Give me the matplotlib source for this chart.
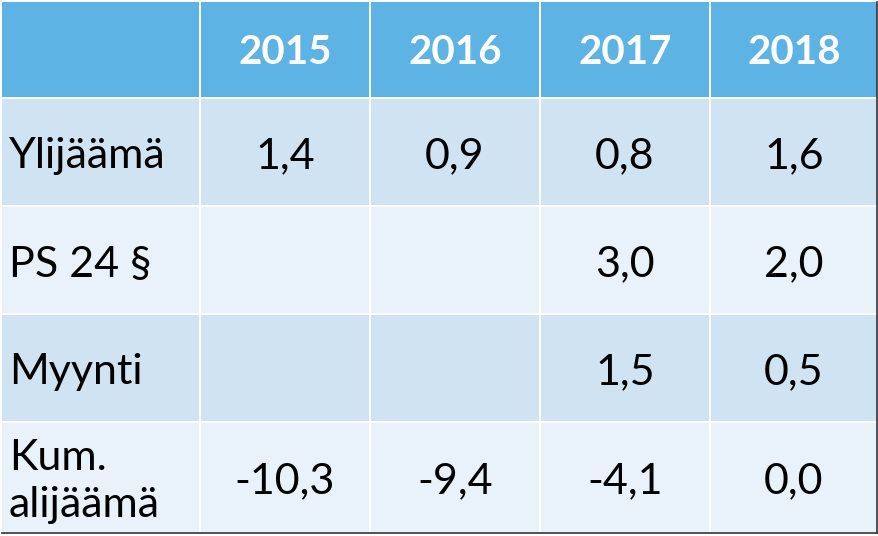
import matplotlib.pyplot as plt
from matplotlib.patches import Rectangle

years = ['2015', '2016', '2017', '2018']
row_labels = ['Ylijäämä', 'PS 24 §', 'Myynti', 'Kum.\nalijäämä']
ylijaama = ['1,4', '0,9', '0,8', '1,6']
ps24 = ['', '', '3,0', '2,0']
myynti = ['', '', '1,5', '0,5']
kum_alijaama = ['-10,3', '-9,4', '-4,1', '0,0']
rows = [ylijaama, ps24, myynti, kum_alijaama]

header_color = '#5DB3E3'
row_colors = ['#D0E3F3', '#E9F2FA']
font = ['Lato', 'DejaVu Sans']

W, H = 879, 536
fig = plt.figure(figsize=(W / 100, H / 100), dpi=100)
ax = fig.add_axes([0, 0, 1, 1])
ax.set_xlim(0, W)
ax.set_ylim(H, 0)
ax.axis('off')

# cell edges in pixels
col_x = [2, 200, 370, 540, 710, 877]
row_y = [2, 98, 206, 314, 422, 532]
gap = 2

def cell(c, r, color):
    x0 = col_x[c] + (gap / 2 if c > 0 else 0)
    x1 = col_x[c + 1] - (gap / 2 if c < len(col_x) - 2 else 0)
    y0 = row_y[r] + (gap / 2 if r > 0 else 0)
    y1 = row_y[r + 1] - (gap / 2 if r < len(row_y) - 2 else 0)
    ax.add_patch(Rectangle((x0, y0), x1 - x0, y1 - y0, color=color, lw=0))
    return (x0 + x1) / 2, (y0 + y1) / 2

# header
for c in range(5):
    cx, cy = cell(c, 0, header_color)
    if c > 0:
        ax.text(cx, cy + 3, years[c - 1], ha='center', va='center',
                fontsize=29, fontweight='bold', color='white', family=font)

for r, vals in enumerate(rows):
    color = row_colors[r % 2]
    cx, cy = cell(0, r + 1, color)
    ax.text(col_x[0] + 7, cy + 4, row_labels[r], ha='left', va='center',
            fontsize=31, color='black', family=font, linespacing=1.3)
    for c, v in enumerate(vals):
        cx, cy = cell(c + 1, r + 1, color)
        ax.text(cx, cy + 4, v, ha='center', va='center',
                fontsize=31, color='black', family=font)

# dark outer edge on right and bottom
ax.plot([col_x[-1] + 0.5, col_x[-1] + 0.5], [row_y[0], row_y[-1] + 1], color='#333333', lw=1.2)
ax.plot([col_x[0], col_x[-1] + 1], [row_y[-1] + 0.5, row_y[-1] + 0.5], color='#333333', lw=1.2)

fig.savefig('out.png', dpi=100)
